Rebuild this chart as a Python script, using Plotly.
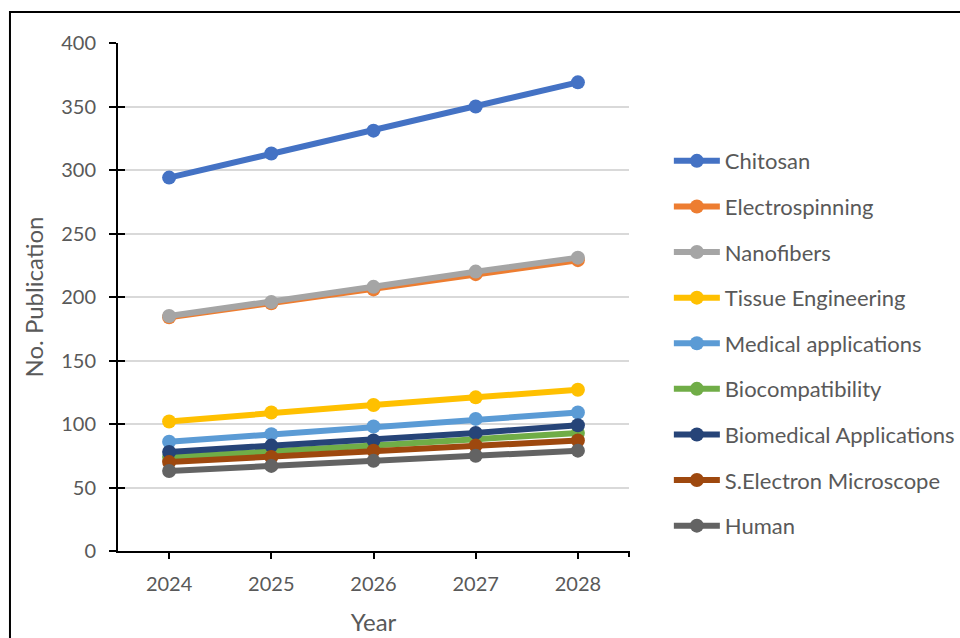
import plotly.graph_objects as go

# Publication forecast per research topic
years = ["2024", "2025", "2026", "2027", "2028"]

chitosan = [294, 313, 331, 350, 369]
electrospinning = [184, 195, 206, 218, 229]
nanofibers = [185, 196, 208, 220, 231]
tissue_engineering = [102, 109, 115, 121, 127]
medical_applications = [86, 92, 98, 104, 109]
biocompatibility = [74, 78, 83, 88, 93]
biomedical_applications = [78, 83, 87, 93, 99]
sem = [70, 74, 79, 83, 87]
human = [63, 67, 71, 75, 79]

series = [
    ("Chitosan", chitosan, "#4472C4"),
    ("Electrospinning", electrospinning, "#ED7D31"),
    ("Nanofibers", nanofibers, "#A5A5A5"),
    ("Tissue Engineering", tissue_engineering, "#FFC000"),
    ("Medical applications", medical_applications, "#5B9BD5"),
    ("Biocompatibility", biocompatibility, "#70AD47"),
    ("Biomedical Applications", biomedical_applications, "#264478"),
    ("S.Electron Microscope", sem, "#9E480E"),
    ("Human", human, "#636363"),
]

y_ticks = [0, 50, 100, 150, 200, 250, 300, 350, 400]

FONT = "Lato"
TEXT = "#595959"

fig = go.Figure()
for i, (name, vals, color) in enumerate(series):
    fig.add_trace(go.Scatter(
        x=years, y=vals, name=name, mode="lines+markers",
        line=dict(color=color, width=6),
        marker=dict(color=color, size=14),
        legendgroup=f"g{i}",
    ))

# invisible trace to carry the inner half of the crossing y ticks
fig.add_trace(go.Scatter(x=years, y=[None] * 5, yaxis="y2", showlegend=False,
                         hoverinfo="skip"))

fig.update_layout(
    width=960, height=638,
    margin=dict(l=118, r=331, t=43, b=87, autoexpand=False),
    paper_bgcolor="white", plot_bgcolor="white",
    font=dict(family=FONT, size=20, color=TEXT),
    showlegend=True,
    legend=dict(
        x=1.078, y=0.809, xanchor="left", yanchor="top",
        font=dict(family=FONT, size=22, color=TEXT),
        tracegroupgap=14, itemwidth=46,
        bgcolor="rgba(0,0,0,0)",
    ),
    xaxis=dict(
        type="category", range=[-0.5, 4.5], automargin=False,
        showline=True, linecolor="black", linewidth=2,
        ticks="outside", ticklen=6, tickwidth=2, tickcolor="black",
        ticklabelstandoff=8,
        showgrid=False, zeroline=False,
        tickfont=dict(family=FONT, size=20, color=TEXT),
        title=dict(text="Year", font=dict(family=FONT, size=24, color=TEXT), standoff=20),
    ),
    yaxis=dict(
        range=[0, 400], tickvals=y_ticks, automargin=False,
        showline=True, linecolor="black", linewidth=2,
        ticks="outside", ticklen=7, tickwidth=2, tickcolor="black",
        ticklabelstandoff=9,
        showgrid=True, gridcolor="#D9D9D9", gridwidth=2,
        zeroline=False,
        tickfont=dict(family=FONT, size=20, color=TEXT),
        title=dict(text="No. Publication", font=dict(family=FONT, size=24, color=TEXT), standoff=11),
    ),
    yaxis2=dict(
        range=[0, 400], tickvals=y_ticks, overlaying="y", side="left",
        ticks="inside", ticklen=7, tickwidth=2, tickcolor="black",
        showticklabels=False, showgrid=False, zeroline=False, showline=False,
    ),
)

# end tick at the right edge of the category axis
fig.add_shape(type="line", xref="paper", yref="paper",
              x0=1, x1=1, y0=0, y1=-0.012,
              line=dict(color="black", width=2))

# outer chart frame
fig.add_shape(type="rect", xref="paper", yref="paper",
              x0=-0.2114, x1=1.8, y0=-0.4, y1=1.061,
              line=dict(color="black", width=2), layer="below")

fig.write_html("out.html")
